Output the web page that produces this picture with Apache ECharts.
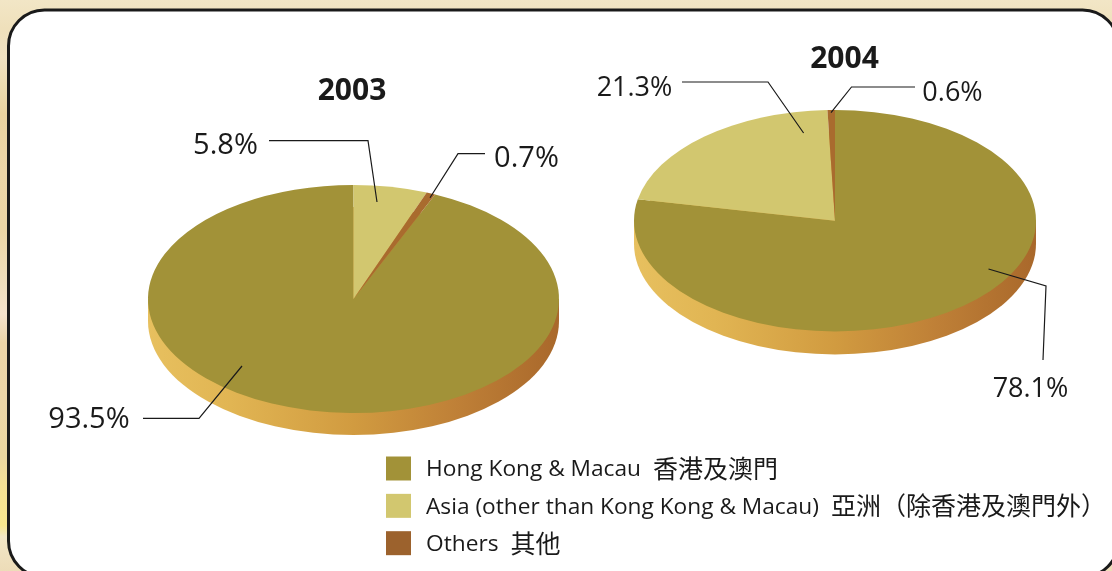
<!DOCTYPE html>
<html>
<head>
<meta charset="utf-8">
<style>
  html, body { margin: 0; padding: 0; background: #f1e4c1; }
  #chart { width: 1112px; height: 571px; }
</style>
<script src="https://cdn.jsdelivr.net/npm/echarts@6/dist/echarts.min.js"></script>
</head>
<body>
<div id="chart"></div>
<script>
const years = ['2003', '2004']
const categories = ['Hong Kong & Macau', 'Asia (other than Kong Kong & Macau)', 'Others']
const categoriesZh = ['香港及澳門', '亞洲（除香港及澳門外）', '其他']
const hongKongMacau = [93.5, 78.1]
const asia = [5.8, 21.3]
const others = [0.7, 0.6]
const seriesValues = [hongKongMacau, asia, others]
// slices run clockwise from 12 o'clock, in a different order in each year
const sliceOrder = [[1, 2, 0], [0, 1, 2]]

const sliceColors = ['#a29238', '#d2c76f', '#a96b2e']
const swatchColors = ['#a29238', '#d2c76f', '#9c622d']
const latin = '"Open Sans", "Noto Sans CJK TC"'

const pies = [
  { cx: 353.5, cy: 299, rx: 205.5, ry: 114, depth: 22, titleX: 352, titleY: 91, labelSize: 29 },
  { cx: 835, cy: 220.7, rx: 201, ry: 110.7, depth: 23, titleX: 844.5, titleY: 59, labelSize: 27 }
]
// [category][year]: label centre and leader line
const callouts = [
  [
    { x: 89, y: 420, line: [[143, 418.3], [199, 418.3], [242, 366]] },
    { x: 1030.5, y: 389, line: [[988.5, 269], [1046, 286], [1043, 360]] }
  ],
  [
    { x: 225.5, y: 146, line: [[269, 140.7], [368, 140.7], [377, 202]] },
    { x: 634.5, y: 88, line: [[682, 82], [768, 82], [803.6, 133]] }
  ],
  [
    { x: 526.5, y: 159, line: [[485, 153.7], [458, 153.7], [430, 197.7]] },
    { x: 952.5, y: 93, line: [[915, 87], [851.5, 87], [831, 112.7]] }
  ]
]

const sliceAngles = (catIndex, yearIndex) => {
  let before = 0
  for (const c of sliceOrder[yearIndex]) {
    if (c === catIndex) break
    before += seriesValues[c][yearIndex]
  }
  const total = sliceOrder[yearIndex].reduce((s, c) => s + seriesValues[c][yearIndex], 0)
  const toAngle = (v) => -Math.PI / 2 + (v / total) * Math.PI * 2
  return [toAngle(before), toAngle(before + seriesValues[catIndex][yearIndex])]
}

const rimFill = {
  type: 'linear', x: 0, y: 0, x2: 1, y2: 0,
  colorStops: [
    { offset: 0, color: '#e7c05f' },
    { offset: 0.2, color: '#e1b553' },
    { offset: 0.5, color: '#d19b40' },
    { offset: 0.75, color: '#bf8037' },
    { offset: 1, color: '#a9682b' }
  ]
}

const rimSeries = {
  type: 'custom',
  name: 'rim',
  coordinateSystem: 'none',
  silent: true,
  animation: false,
  z: 1,
  data: years.map((y, i) => [i]),
  renderItem: (params, api) => {
    const p = pies[api.value(0)]
    return {
      type: 'group',
      children: [
        { type: 'rect', shape: { x: p.cx - p.rx, y: p.cy, width: p.rx * 2, height: p.depth }, style: { fill: rimFill } },
        {
          type: 'group', x: p.cx, y: p.cy + p.depth, scaleY: p.ry / p.rx,
          children: [{ type: 'circle', shape: { cx: 0, cy: 0, r: p.rx }, style: { fill: rimFill } }]
        }
      ]
    }
  }
}

const sliceSeries = categories.map((name, catIndex) => ({
  type: 'custom',
  name,
  coordinateSystem: 'none',
  silent: true,
  animation: false,
  z: 2,
  itemStyle: { color: sliceColors[catIndex] },
  data: years.map((y, i) => [i, seriesValues[catIndex][i]]),
  renderItem: (params, api) => {
    const yearIndex = api.value(0)
    const p = pies[yearIndex]
    const [startAngle, endAngle] = sliceAngles(catIndex, yearIndex)
    return {
      type: 'group',
      x: p.cx,
      y: p.cy,
      scaleY: p.ry / p.rx,
      children: [{
        type: 'sector',
        shape: { cx: 0, cy: 0, r0: 0, r: p.rx, startAngle, endAngle, clockwise: true },
        style: { fill: sliceColors[catIndex] }
      }]
    }
  }
}))

const calloutSeries = categories.map((name, catIndex) => ({
  type: 'custom',
  name: 'callout ' + catIndex,
  coordinateSystem: 'none',
  silent: true,
  animation: false,
  z: 3,
  data: years.map((y, i) => [i, seriesValues[catIndex][i]]),
  renderItem: (params, api) => {
    const yearIndex = api.value(0)
    const c = callouts[catIndex][yearIndex]
    return {
      type: 'group',
      children: [
        { type: 'polyline', shape: { points: c.line }, style: { stroke: '#1a1a1a', lineWidth: 1.2, fill: null } },
        {
          type: 'text', x: c.x, y: c.y,
          style: {
            text: api.value(1).toFixed(1) + '%',
            fill: '#1a1a1a',
            font: pies[yearIndex].labelSize + 'px ' + latin,
            align: 'center',
            verticalAlign: 'middle'
          }
        }
      ]
    }
  }
}))

const chart = echarts.init(document.getElementById('chart'), null, { renderer: 'canvas' })

chart.setOption({
  animation: false,
  backgroundColor: {
    type: 'linear', x: 0, y: 0, x2: 0, y2: 1,
    colorStops: [
      { offset: 0, color: '#f2e6c6' },
      { offset: 0.05, color: '#efe0bb' },
      { offset: 0.1, color: '#f1e2c2' },
      { offset: 0.15, color: '#ecdcb0' },
      { offset: 0.2, color: '#e9d3a0' },
      { offset: 0.3, color: '#ecd6a8' },
      { offset: 0.4, color: '#ebd5a5' },
      { offset: 0.5, color: '#efdfbe' },
      { offset: 0.55, color: '#f4e3cc' },
      { offset: 0.6, color: '#ecd5a7' },
      { offset: 0.7, color: '#ecd6a8' },
      { offset: 0.8, color: '#ebd7a0' },
      { offset: 0.85, color: '#f4e195' },
      { offset: 0.92, color: '#f7e78e' },
      { offset: 0.94, color: '#f2e6c6' },
      { offset: 1, color: '#eddcb8' }
    ]
  },
  graphic: [{
    type: 'rect',
    z: 0,
    silent: true,
    shape: { x: 8.5, y: 10, width: 1110, height: 567, r: 36 },
    style: { fill: '#fff', stroke: '#1a1a1a', lineWidth: 3 }
  }],
  title: years.map((y, i) => ({
    text: y,
    left: pies[i].titleX,
    top: pies[i].titleY,
    padding: 0,
    textAlign: 'center',
    textVerticalAlign: 'middle',
    textStyle: { fontFamily: latin, fontSize: 30, fontWeight: 700, color: '#1a1a1a' }
  })),
  legend: {
    orient: 'vertical',
    left: 386,
    top: 456,
    padding: 0,
    itemWidth: 25,
    itemHeight: 24,
    itemGap: 12,
    icon: 'rect',
    selectedMode: false,
    data: categories.map((name, i) => ({ name, itemStyle: { color: swatchColors[i] } })),
    formatter: (name) => `{a|${name}}{b|${categoriesZh[categories.indexOf(name)]}}`,
    textStyle: {
      padding: [0, 0, 0, 10],
      rich: {
        a: { fontFamily: latin, fontSize: 22.7, color: '#1a1a1a', padding: [3, 0, 0, 0] },
        b: { fontFamily: '"Noto Sans CJK TC"', fontSize: 25, color: '#1a1a1a', padding: [0, 0, 0, 12] }
      }
    }
  },
  series: [rimSeries, ...sliceSeries, ...calloutSeries]
})

window.addEventListener('resize', () => chart.resize())
</script>
</body>
</html>
